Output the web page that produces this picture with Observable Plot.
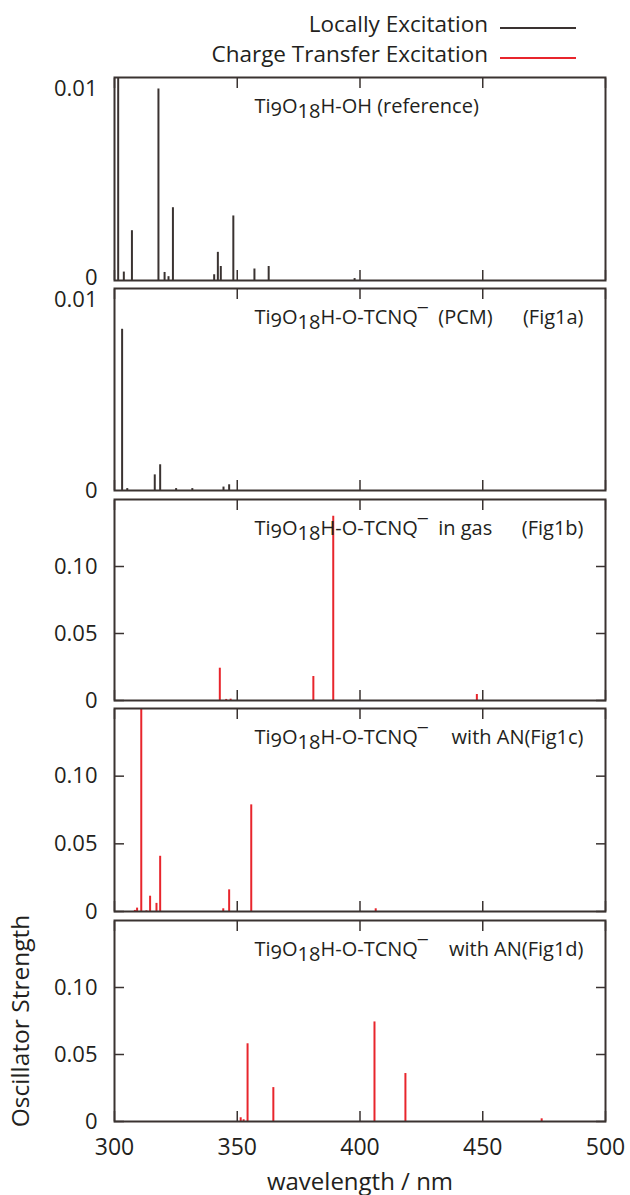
<!DOCTYPE html>
<html>
<head>
<meta charset="utf-8">
<script src="https://cdn.jsdelivr.net/npm/d3@7"></script>
<script src="https://cdn.jsdelivr.net/npm/@observablehq/plot@0.6"></script>
<style>
  body { margin: 0; background: #fff; }
  #root { position: relative; width: 630px; height: 1195px; font-family: "Open Sans", sans-serif; color: #231f20; overflow: hidden; }
  .panel { position: absolute; left: 0; }
  .panel svg { overflow: visible; }
  .leg-text { position: absolute; font-size: 22.5px; line-height: 22px; white-space: nowrap; text-align: right; }
  .leg-line { position: absolute; }
</style>
</head>
<body>
<div id="root"></div>
<script>
// ---------------- data ----------------
const seriesNames = ["Locally Excitation", "Charge Transfer Excitation"];
const seriesColors = ["#3a3331", "#e8252c"];

const panelTitles = [
  "Ti9O18H-OH (reference)",
  "Ti9O18H-O-TCNQ¯  (PCM)",
  "Ti9O18H-O-TCNQ¯  in gas",
  "Ti9O18H-O-TCNQ¯",
  "Ti9O18H-O-TCNQ¯"
];
const panelTags = ["", "(Fig1a)", "(Fig1b)", "with AN(Fig1c)", "with AN(Fig1d)"];
const panelSeries = [0, 0, 1, 1, 1];

// Panel 1: reference
const refWavelength = [301.5, 303.8, 307.1, 317.9, 320.4, 322.0, 323.8, 340.6, 342.1, 343.3, 348.4, 357.0, 362.8, 397.8];
const refStrength   = [0.0125, 0.00044, 0.0026, 0.0100, 0.00042, 0.0002, 0.0038, 0.0003, 0.00147, 0.00073, 0.00337, 0.0006, 0.00073, 0.0001];

// Panel 2: Fig1a (PCM)
const fig1aWavelength = [303.1, 305.2, 316.4, 318.6, 325.1, 331.7, 344.4, 346.7];
const fig1aStrength   = [0.00846, 0.0001, 0.00082, 0.00135, 0.0001, 0.0001, 0.00018, 0.0003];

// Panel 3: Fig1b (gas)
const fig1bWavelength = [342.9, 345.5, 347.3, 381.0, 389.1, 447.6];
const fig1bStrength   = [0.0241, 0.0008, 0.001, 0.0179, 0.1375, 0.0045];

// Panel 4: Fig1c (with AN)
const fig1cWavelength = [308.3, 309.2, 310.9, 313.0, 314.5, 317.1, 318.6, 344.3, 346.7, 355.7, 406.4];
const fig1cStrength   = [0.0008, 0.0025, 0.16, 0.0005, 0.0113, 0.006, 0.0408, 0.002, 0.016, 0.0788, 0.002];

// Panel 5: Fig1d (with AN)
const fig1dWavelength = [351.4, 352.6, 354.2, 364.7, 405.9, 418.5, 474.0];
const fig1dStrength   = [0.0028, 0.0013, 0.058, 0.0253, 0.0743, 0.0358, 0.002];

const xDomain = [300, 500];
const xTickValues = [300, 350, 400, 450, 500];
const smallYMax = 0.0106, largeYMax = 0.15;
const smallYTicks = [0, 0.01];
const largeYTicks = [0, 0.05, 0.10];
const xLabel = "wavelength / nm";
const yLabel = "Oscillator Strength";

// ---------------- build ----------------
const zip = (w, f) => w.map((d, i) => ({wl: d, f: f[i]}));
const panelData = [
  zip(refWavelength, refStrength),
  zip(fig1aWavelength, fig1aStrength),
  zip(fig1bWavelength, fig1bStrength),
  zip(fig1cWavelength, fig1cStrength),
  zip(fig1dWavelength, fig1dStrength)
];

const ink = "#231f20";
const frameColor = "#3a3331";
const frameTops = [77, 288, 499, 708, 920];
const frameHeights = [203, 202, 201, 203, 201];
const root = document.getElementById("root");

// legend
seriesNames.forEach((name, i) => {
  const t = document.createElement("div");
  t.className = "leg-text";
  t.style.right = (630 - 488) + "px";
  t.style.top = (13 + i * 30) + "px";
  t.textContent = name;
  root.appendChild(t);
  const s = d3.create("svg").attr("class", "leg-line")
    .attr("width", 78).attr("height", 6)
    .style("left", "499px").style("top", (25 + i * 30) + "px");
  s.append("line").attr("x1", 1).attr("x2", 77).attr("y1", 3).attr("y2", 3)
    .attr("stroke", seriesColors[i]).attr("stroke-width", 2);
  root.appendChild(s.node());
});

panelData.forEach((data, p) => {
  const isLast = p === panelData.length - 1;
  const small = p < 2;
  const marginTop = 10;
  const marginBottom = isLast ? 75 : 10;
  const yTicks = small ? smallYTicks : largeYTicks;
  const fmt = d => d === 0 ? "0" : d3.format(".2f")(d);
  const yAxisOpts = {anchor: "left", tickSize: small ? 0 : -10, tickPadding: small ? 17 : 27, tickFormat: fmt, fontSize: 22, fill: ink, stroke: frameColor, strokeWidth: 1.5,
      labelAnchor: "center", labelOffset: 103, labelArrow: "none"};
  const marks = [
    Plot.ruleX(data, {x: "wl", y1: 0, y2: "f", stroke: seriesColors[panelSeries[p]], strokeWidth: 2, clip: true}),
    Plot.axisX(xTickValues, {anchor: "top", tickSize: -10, tickFormat: () => "", stroke: frameColor, strokeWidth: 1.5, label: null}),
    isLast
      ? Plot.axisX(xTickValues, {anchor: "bottom", tickSize: -10, tickPadding: 27, tickFormat: d => String(d), fontSize: 23, fill: ink, stroke: frameColor, strokeWidth: 1.5,
          label: xLabel, labelAnchor: "center", labelOffset: 68, labelArrow: "none"})
      : Plot.axisX(xTickValues, {anchor: "bottom", tickSize: -10, tickFormat: () => "", stroke: frameColor, strokeWidth: 1.5, label: null}),
    Plot.frame({stroke: frameColor, strokeWidth: 2}),
    Plot.text([panelTitles[p]], {text: d => d, frameAnchor: "top-left", dx: 140, dy: 21, textAnchor: "start", fontSize: 20, fill: ink}),
    Plot.text([panelTags[p]], {text: d => d, frameAnchor: "top-right", dx: -22, dy: 21, textAnchor: "end", fontSize: 20, fill: ink})
  ];
  if (p === 0) {
    // the bottom "0" of the first panel sits slightly raised, as in the source
    marks.push(Plot.axisY([yTicks[0]], {...yAxisOpts, dy: -3, label: null}));
    marks.push(Plot.axisY(yTicks.slice(1), {...yAxisOpts, label: null}));
  } else {
    marks.push(Plot.axisY(yTicks, {...yAxisOpts, label: isLast ? yLabel : null}));
  }
  if (!small) {
    marks.push(Plot.axisY(yTicks, {anchor: "right", tickSize: -10, tickFormat: () => "", stroke: frameColor, strokeWidth: 1.5, label: null}));
  }
  const chart = Plot.plot({
    width: 630,
    height: marginTop + frameHeights[p] + marginBottom,
    marginLeft: 114,
    marginRight: 25,
    marginTop,
    marginBottom,
    style: {fontFamily: '"Open Sans", sans-serif', fontSize: "21px", color: ink, background: "transparent", overflow: "visible"},
    x: {domain: xDomain},
    y: {domain: [0, small ? smallYMax : largeYMax]},
    marks
  });
  // axis titles slightly larger than tick labels
  d3.select(chart).selectAll('g[aria-label="y-axis label"] text').attr("font-size", 24.5);
  d3.select(chart).selectAll('g[aria-label="x-axis label"] text').attr("font-size", 24);
  // subscripts in the title
  d3.select(chart).selectAll('g[aria-label="text"] text').each(function() {
    const t = d3.select(this);
    const m = /^Ti(\d)O(\d+)(.*)$/.exec(t.text());
    if (!m) return;
    t.text(null).style("white-space", "pre");
    t.append("tspan").text("Ti");
    t.append("tspan").attr("dy", "0.14em").text(m[1]);
    t.append("tspan").attr("dy", "-0.14em").text("O");
    t.append("tspan").attr("dy", "0.28em").text(m[2]);
    t.append("tspan").attr("dy", "-0.28em").text(m[3]);
  });
  const wrap = document.createElement("div");
  wrap.className = "panel";
  wrap.style.top = (frameTops[p] - marginTop) + "px";
  wrap.appendChild(chart);
  root.appendChild(wrap);
});
</script>
</body>
</html>
